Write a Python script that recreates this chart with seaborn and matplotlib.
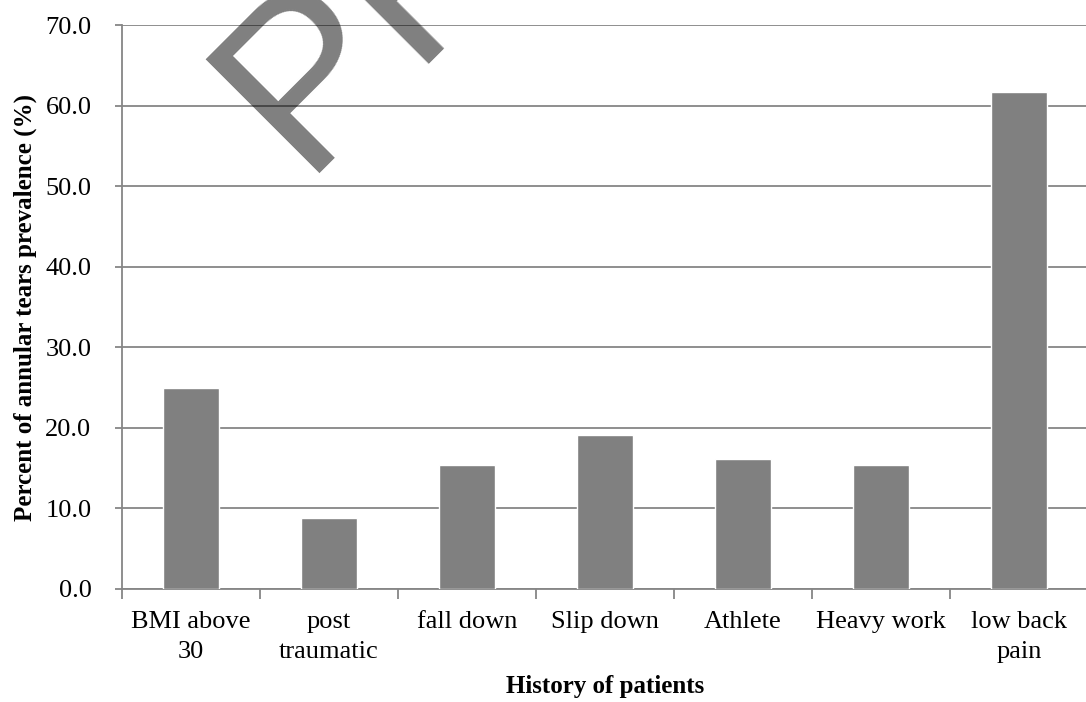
import seaborn as sns
import matplotlib.pyplot as plt
import numpy as np
import pandas as pd

# data
categories = ["BMI above\n30", "post\ntraumatic", "fall down", "Slip down",
              "Athlete", "Heavy work", "low back\npain"]
prevalence = [25.0, 8.8, 15.4, 19.1, 16.1, 15.4, 61.7]
y_ticks = [0, 10, 20, 30, 40, 50, 60, 70]

sns.set_theme(style="white")
plt.rcParams['font.family'] = ['Liberation Serif', 'DejaVu Serif']

df = pd.DataFrame({"history": categories, "pct": prevalence})

fig = plt.figure(figsize=(10.86, 7.02), dpi=100)
ax = fig.add_axes([0.1123, 0.161, 0.8895, 0.8027])

sns.barplot(data=df, x="history", y="pct", color="#808080", saturation=1,
            width=0.4, ax=ax, zorder=3)

ax.set_ylim(0, 70)
ax.set_xlim(-0.5, len(categories) - 0.5)
ax.set_yticks(y_ticks)
ax.set_yticklabels([f"{v:.1f}" for v in y_ticks], fontsize=19, color="black")
ax.yaxis.grid(True, color="#868686", linewidth=1.3, zorder=0)
ax.set_axisbelow(True)

# category labels without ticks, boundary ticks as minor
ax.tick_params(axis="x", which="major", length=0, pad=16, labelsize=19,
               labelcolor="black")
for lab in ax.get_xticklabels():
    lab.set_linespacing(1.45)
ax.set_xticks(np.arange(-0.5, len(categories)), minor=True)
ax.tick_params(axis="x", which="minor", length=7, width=1.3, color="#868686",
               direction="out", bottom=True)
ax.tick_params(axis="y", length=5, width=1.3, color="#868686", direction="out",
               left=True, pad=17)

for side in ["top", "right"]:
    ax.spines[side].set_visible(False)
for side in ["left", "bottom"]:
    ax.spines[side].set_color("#868686")
    ax.spines[side].set_linewidth(1.3)

ax.set_xlabel("History of patients", fontsize=18, fontweight="bold",
              color="black", labelpad=9)
ax.set_ylabel("Percent of annular tears prevalence (%)", fontsize=18,
              fontweight="bold", color="black", labelpad=6)

# watermark
fig.text(0.2773, 0.754, "PREVIEW", rotation=45, rotation_mode="anchor",
         ha="left", va="baseline", fontsize=168, family="Liberation Sans",
         color="black", alpha=0.5, zorder=10)

fig.savefig("out.png", dpi=100)
